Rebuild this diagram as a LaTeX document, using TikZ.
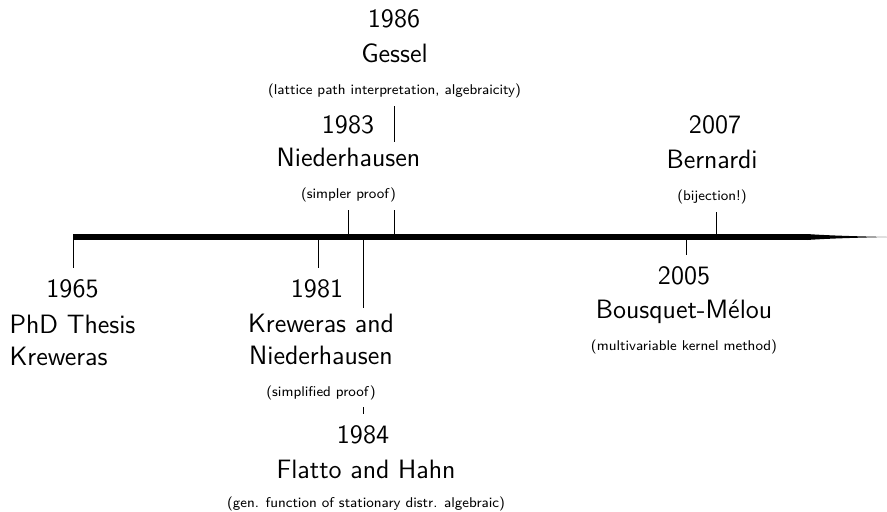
\documentclass[tikz,border=0pt]{standalone}
\usetikzlibrary{backgrounds}
\newcommand{\bigfont}{\sffamily\fontsize{15}{18}\selectfont}
\begin{document}
\begin{tikzpicture}[x=0.565pt,y=-0.565pt,
  year/.style={font=\bigfont, fill=white, inner sep=3.4pt, anchor=base},
  event/.style={font=\bigfont, fill=white, inner sep=3.4pt, anchor=north, align=center},
  tick/.style={draw=black, line width=0.45pt},
  bar/.style={draw=black, line width=3.4pt, line cap=butt}]
\useasboundingbox (0,0) rectangle (887,511);

% year nodes
\node[year] (y1965) at (72.5,297) {\strut 1965};
\node[year] (y1981) at (317,297) {\strut 1981};
\node[year] (y1983) at (348,133) {\strut 1983};
\node[year] (y1986) at (394,27) {\strut 1986};
\node[year] (y1984) at (363,443) {\strut 1984};
\node[year] (y2005) at (684,284) {\strut 2005};
\node[year] (y2007) at (715,133) {\strut 2007};

% event nodes
\node[event, align=left] (n1965) at (72.5,308.6) {PhD Thesis\\Kreweras};
\node[event] (n1981) at (321,307.6) {Kreweras and\\Niederhausen\\{\footnotesize\strut (simplified proof)}};
\node[event] (n1983) at (348.5,142.1) {Niederhausen\\{\footnotesize\strut (simpler proof)}};
\node[event] (n1986) at (394.5,37.6) {Gessel\\{\footnotesize\strut (lattice path interpretation, algebraicity)}};
\node[event] (n1984) at (366,453.6) {Flatto and Hahn\\[-1.5pt]{\footnotesize\strut (gen. function of stationary distr. algebraic)}};
\node[event] (n2005) at (684,293.6) {Bousquet-Mélou\\{\footnotesize\strut (multivariable kernel method)}};
\node[event] (n2007) at (712,143.6) {Bernardi\\{\footnotesize\strut (bijection!)}};

\begin{scope}[on background layer]
  \coordinate (b1965) at (73,237);
  \coordinate (b1981) at (318,237);
  \coordinate (b1983) at (348,237);
  \coordinate (b1984) at (363,237);
  \coordinate (b1986) at (394,237);
  \coordinate (b2005) at (686,237);
  \coordinate (b2007) at (716,237);
  \coordinate (barstart) at (73,237);
  \coordinate (barend) at (807,237);
  \coordinate (tip) at (887,237);

  \draw[tick] (b1965) -- (b1965 |- y1965.north);
  \draw[tick] (b1981) -- (b1981 |- y1981.north);
  \draw[tick] (b1984) -- (b1984 |- y1984.north);
  \draw[tick] (b2005) -- (b2005 |- y2005.north);
  \draw[tick] (b1983) -- (b1983 |- n1983.south);
  \draw[tick] (b1986) -- (b1986 |- n1986.south);
  \draw[tick] (b2007) -- (b2007 |- n2007.south);

  \draw[bar] (barstart) -- (barend);
  \fill[black] (807,234) .. controls (830,235.6) and (860,236.4) .. (tip)
     .. controls (860,237.6) and (830,238.4) .. (807,240) -- cycle;
\end{scope}
\end{tikzpicture}
\end{document}
